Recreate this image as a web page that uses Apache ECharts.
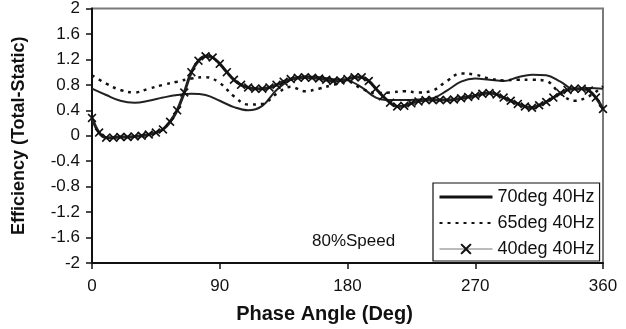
<!DOCTYPE html>
<html>
<head>
<meta charset="utf-8">
<script src="https://cdn.jsdelivr.net/npm/echarts@6/dist/echarts.min.js"></script>
<style>
html,body{margin:0;padding:0;background:#fff;}
#c{width:626px;height:329px;}
</style>
</head>
<body>
<div id="c"></div>
<script>
// Phase angle grids (degrees)
const phase10 = [0,10,20,30,40,50,60,70,80,90,100,110,120,130,140,150,160,170,180,190,200,210,220,230,240,250,260,270,280,290,300,310,320,330,340,350,360];
const phase5 = [0,5,10,15,20,25,30,35,40,45,50,55,60,65,70,75,80,85,90,95,100,105,110,115,120,125,130,135,140,145,150,155,160,165,170,175,180,185,190,195,200,205,210,215,220,225,230,235,240,245,250,255,260,265,270,275,280,285,290,295,300,305,310,315,320,325,330,335,340,345,350,355,360];

// Efficiency (Total-Static)
const eff70 = [0.74,0.64,0.55,0.52,0.55,0.60,0.64,0.66,0.64,0.55,0.45,0.40,0.47,0.72,0.88,0.93,0.92,0.89,0.87,0.76,0.60,0.56,0.56,0.57,0.59,0.71,0.85,0.90,0.88,0.86,0.92,0.96,0.95,0.85,0.73,0.75,0.74];
const eff65 = [0.95,0.82,0.72,0.68,0.74,0.80,0.85,0.90,0.92,0.83,0.62,0.49,0.50,0.66,0.77,0.70,0.74,0.80,0.85,0.74,0.67,0.68,0.70,0.68,0.71,0.86,0.98,0.96,0.90,0.87,0.88,0.88,0.86,0.66,0.55,0.62,0.78];
const eff40 = [0.28,0.05,-0.03,-0.03,-0.02,-0.02,-0.01,0.00,0.02,0.05,0.10,0.22,0.40,0.68,1.00,1.18,1.25,1.23,1.13,1.00,0.88,0.80,0.76,0.74,0.74,0.76,0.80,0.85,0.89,0.91,0.92,0.91,0.90,0.88,0.86,0.87,0.89,0.92,0.92,0.86,0.74,0.62,0.52,0.46,0.47,0.51,0.54,0.56,0.56,0.56,0.56,0.57,0.59,0.61,0.63,0.66,0.67,0.65,0.60,0.55,0.50,0.46,0.44,0.48,0.53,0.60,0.67,0.72,0.74,0.74,0.71,0.60,0.42];

const seriesNames = ['70deg 40Hz','65deg 40Hz','40deg 40Hz'];
const xTicks = [0,90,180,270,360];
const annotation = '80%Speed';

const FONT = "'Liberation Sans', Arial, sans-serif";
const zip = (xs, ys) => xs.map((x, i) => [x, ys[i]]);
const crossPath = 'path://M0,1.3L1.3,0L5,3.7L8.7,0L10,1.3L6.3,5L10,8.7L8.7,10L5,6.3L1.3,10L0,8.7L3.7,5Z';
const hidden = {color: 'rgba(0,0,0,0)', borderColor: 'rgba(0,0,0,0)', opacity: 0};

const chart = echarts.init(document.getElementById('c'), null, {renderer: 'canvas'});
chart.setOption({
  backgroundColor: '#fff',
  animation: false,
  textStyle: {fontFamily: FONT},
  grid: {left: 92, right: 23, top: 3, bottom: 65, show: true, borderColor: '#7a7a7a', borderWidth: 2, backgroundColor: 'transparent'},
  xAxis: {
    type: 'value', min: xTicks[0], max: xTicks[xTicks.length - 1], interval: 90,
    name: 'Phase Angle (Deg)', nameLocation: 'middle', nameGap: 41,
    nameTextStyle: {fontFamily: FONT, fontSize: 20, fontWeight: 'bold', color: '#111', padding: [0, 46, 0, 0]},
    axisLine: {onZero: false, lineStyle: {color: '#111', width: 2}},
    axisTick: {show: true, length: 6, lineStyle: {color: '#111', width: 1.5}},
    axisLabel: {fontFamily: FONT, fontSize: 17, color: '#111', margin: 15},
    splitLine: {show: false}
  },
  yAxis: {
    type: 'value', min: -2, max: 2, interval: 0.4,
    name: 'Efficiency (Total-Static)', nameLocation: 'middle', nameGap: 64,
    nameTextStyle: {fontFamily: FONT, fontSize: 18, fontWeight: 'bold', color: '#111'},
    axisLine: {onZero: false, lineStyle: {color: '#111', width: 2}},
    axisTick: {show: true, length: 6, lineStyle: {color: '#111', width: 1.5}},
    axisLabel: {fontFamily: FONT, fontSize: 17, color: '#111', margin: 12,
      formatter: v => String(Math.round(v * 10) / 10)},
    splitLine: {show: false}
  },
  legend: {
    orient: 'vertical', left: 433, top: 183,
    padding: [5, 5, 3, 5], itemGap: 8, itemWidth: 53, itemHeight: 14,
    borderColor: '#111', borderWidth: 1.2, backgroundColor: '#fff',
    textStyle: {fontFamily: FONT, fontSize: 18, color: '#111'},
    data: [
      {name: seriesNames[0], itemStyle: hidden, lineStyle: {width: 3, color: '#111'}},
      {name: seriesNames[1], itemStyle: hidden},
      {name: seriesNames[2], lineStyle: {width: 1, color: '#777'}}
    ]
  },
  graphic: [{
    type: 'text', left: 312, top: 233,
    style: {text: annotation, font: "17px 'Liberation Sans', Arial, sans-serif", fill: '#111'}
  }],
  series: [
    {name: seriesNames[0], type: 'line', smooth: 0.4, symbol: 'none', data: zip(phase10, eff70),
     lineStyle: {color: '#222', width: 2}, itemStyle: {color: '#222'}, z: 2},
    {name: seriesNames[1], type: 'line', smooth: 0.4, symbol: 'none', data: zip(phase10, eff65),
     lineStyle: {color: '#111', width: 2.5, type: [3, 5]}, itemStyle: {color: '#111'}, z: 3},
    {name: seriesNames[2], type: 'line', smooth: 0.4, symbol: crossPath, symbolSize: 9, data: zip(phase5, eff40),
     lineStyle: {color: '#222', width: 3}, itemStyle: {color: '#111'}, z: 4}
  ]
});
</script>
</body>
</html>
